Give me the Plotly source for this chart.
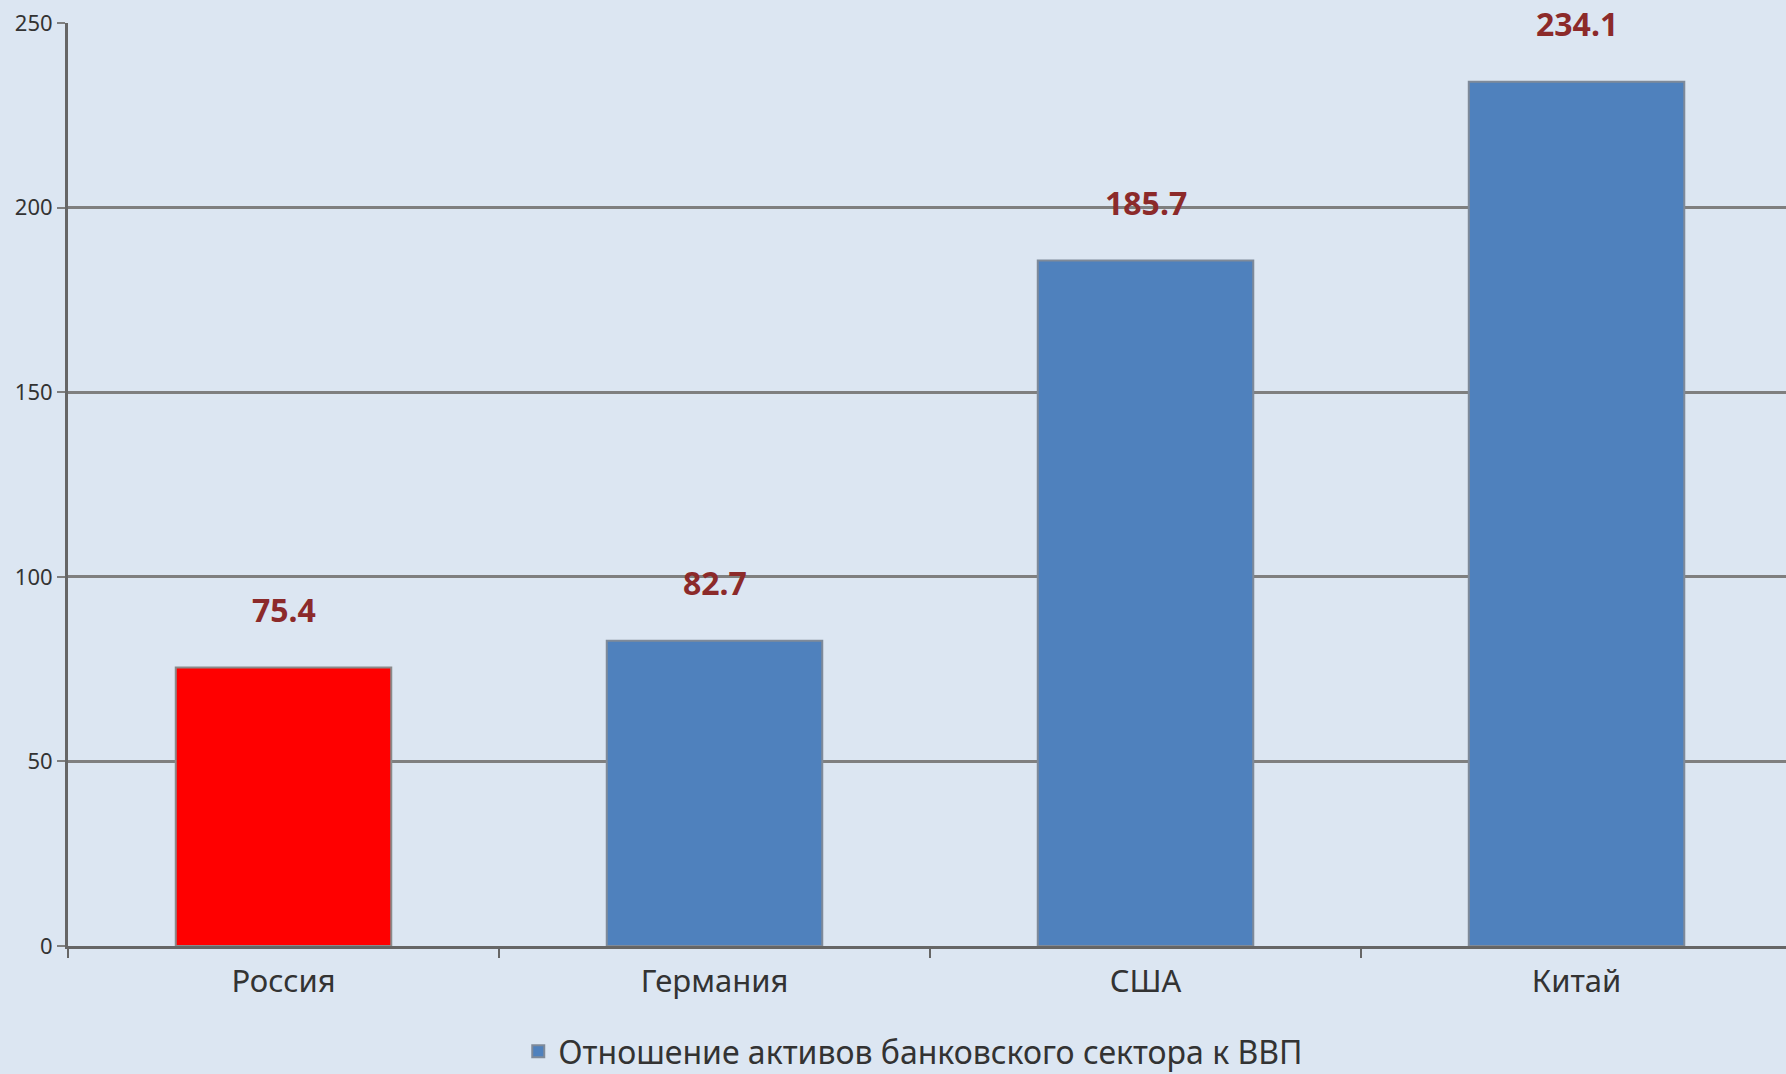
import plotly.graph_objects as go

categories = ["Россия", "Германия", "США", "Китай"]
values = [75.4, 82.7, 185.7, 234.1]
highlight = ["Россия"]
series_name = "Отношение активов банковского сектора к ВВП"
y_ticks = [0, 50, 100, 150, 200, 250]

blue_x = [c for c in categories if c not in highlight]
blue_y = [v for c, v in zip(categories, values) if c not in highlight]
red_x = [c for c in categories if c in highlight]
red_y = [v for c, v in zip(categories, values) if c in highlight]

FONT = "Noto Sans"
BG = "#DCE6F2"

fig = go.Figure()
fig.add_trace(go.Bar(
    x=blue_x, y=blue_y, name=series_name, width=0.5,
    marker=dict(color="#4F81BD", line=dict(color="#7F8A99", width=2)),
))
fig.add_trace(go.Bar(
    x=red_x, y=red_y, name=series_name, width=0.5, showlegend=False,
    marker=dict(color="#FF0000", line=dict(color="#8A8A8A", width=2)),
))

for c, v in zip(categories, values):
    fig.add_annotation(
        x=c, y=v, text=f"{v:.1f}", showarrow=False, yshift=58, borderpad=0,
        font=dict(family=FONT, size=32, color="#8C2A2A", weight="bold"),
    )

fig.update_layout(
    width=1786, height=1074,
    margin=dict(l=68, r=0, t=23, b=128),
    paper_bgcolor=BG,
    plot_bgcolor=BG,
    barmode="overlay",
    font=dict(family=FONT, color="#333333"),
    showlegend=True,
    legend=dict(
        orientation="h", x=0.492, xanchor="center",
        yref="container", y=0.021, yanchor="middle",
        font=dict(family=FONT, size=32, color="#333333"),
        bgcolor="rgba(0,0,0,0)", itemwidth=30,
    ),
)
fig.update_xaxes(
    type="category", categoryorder="array", categoryarray=categories,
    range=[-0.5, 3.486],
    showline=True, linecolor="#666666", linewidth=3,
    ticks="outside", tickson="boundaries", ticklen=9, tickwidth=2, tickcolor="#666666",
    tickfont=dict(family=FONT, size=31, color="#333333"),
    ticklabelstandoff=6,
    showgrid=False,
)
fig.update_yaxes(
    range=[0, 250], tickvals=y_ticks,
    showline=True, linecolor="#666666", linewidth=3,
    ticks="outside", ticklen=8, tickwidth=2, tickcolor="#7F7F7F",
    tickfont=dict(family=FONT, size=22, color="#333333"),
    showgrid=True, gridcolor="#7F7F7F", gridwidth=2.5,
    zeroline=False,
)

fig.write_html(
    "out.html",
    config={"displayModeBar": False},
    post_script=(
        "document.documentElement.style.margin='0';"
        "document.body.style.margin='0';"
        "document.body.style.overflow='hidden';"
        f"document.body.style.background='{BG}';"
    ),
)
